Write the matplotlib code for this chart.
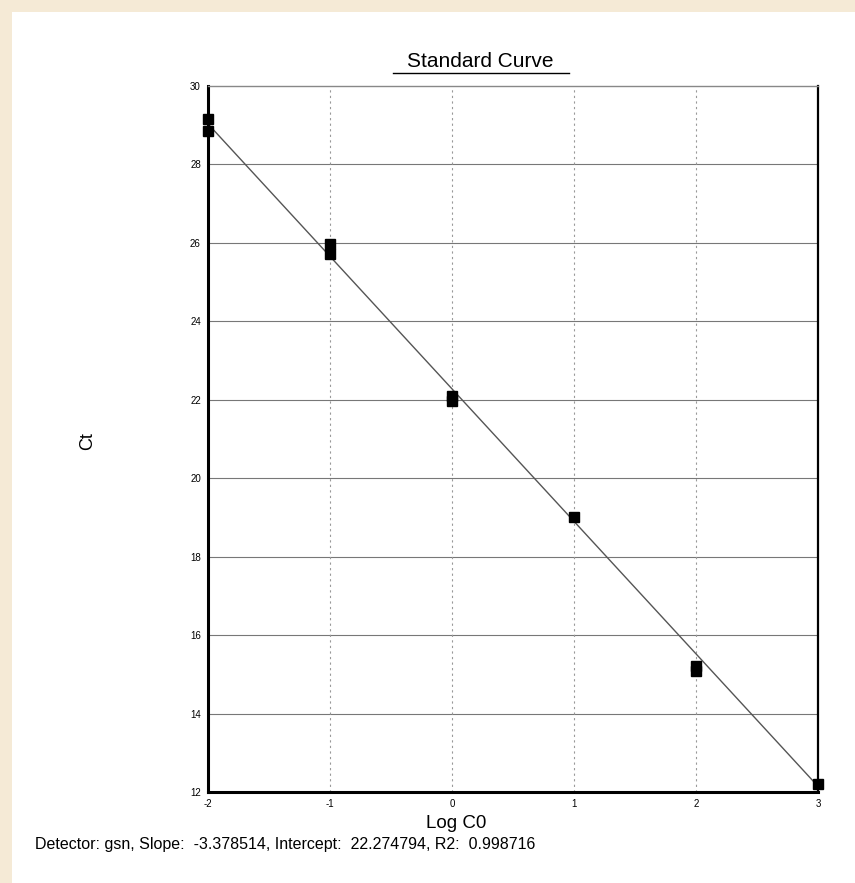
import numpy as np
import matplotlib.pyplot as plt
from matplotlib.patches import Rectangle

plt.rcParams['font.family'] = ['Liberation Sans', 'DejaVu Sans']
plt.rcParams['axes.unicode_minus'] = False

# standard curve replicates
log_c0 = [-2, -2, -1, -1, 0, 0, 1, 2, 2, 3]
ct = [29.15, 28.85, 25.97, 25.7, 22.08, 21.97, 19.0, 15.2, 15.08, 12.2]
slope = -3.378514
intercept = 22.274794
r2 = 0.998716
x_ticks = [-2, -1, 0, 1, 2, 3]
y_ticks = [12, 14, 16, 18, 20, 22, 24, 26, 28, 30]

fig = plt.figure(figsize=(8.55, 8.83), dpi=100, facecolor='#f5ead6')
# white scanned page
fig.patches.append(Rectangle((12/855, 0), 1, 1 - 12/883, transform=fig.transFigure,
                             facecolor='white', edgecolor='none', zorder=-5))

ax = fig.add_axes([0.243, 0.103, 0.714, 0.800])
ax.set_facecolor('none')

xl = np.array([-2, 3])
ax.plot(xl, slope*xl + intercept, color='#555555', lw=1.0, zorder=2)
ax.plot(log_c0, ct, 's', color='black', ms=7, zorder=5, clip_on=False)

ax.set_xlim(-2, 3)
ax.set_ylim(12, 30)
ax.set_xticks(x_ticks)
ax.set_yticks(y_ticks)
ax.tick_params(labelsize=7, length=0, pad=5)
for y in y_ticks[1:-1]:
    ax.axhline(y, color='#777777', lw=0.8, zorder=1)
for x in x_ticks[1:-1]:
    ax.axvline(x, color='#999999', lw=0.8, ls=(0, (2, 3)), zorder=1)

for s in ['left', 'bottom']:
    ax.spines[s].set_linewidth(2.2)
ax.spines['right'].set_linewidth(1.6)
ax.spines['top'].set_linewidth(1.0)
ax.spines['top'].set_color('#888888')

fig.text(0.562, 0.930, 'Standard Curve', ha='center', va='center', fontsize=15)
fig.add_artist(plt.Line2D([0.460, 0.666], [0.917, 0.917], color='black', lw=1.0))
fig.text(0.103, 0.500, 'Ct', ha='center', va='center', rotation=90, fontsize=13)
fig.text(0.533, 0.067, 'Log C0', ha='center', va='center', fontsize=13.5)
fig.text(0.041, 0.044, 'Detector: gsn, Slope:  %.6f, Intercept:  %.6f, R2:  %.6f' % (slope, intercept, r2),
         ha='left', va='center', fontsize=11.5)

plt.savefig('out.png', dpi=100, facecolor=fig.get_facecolor())
